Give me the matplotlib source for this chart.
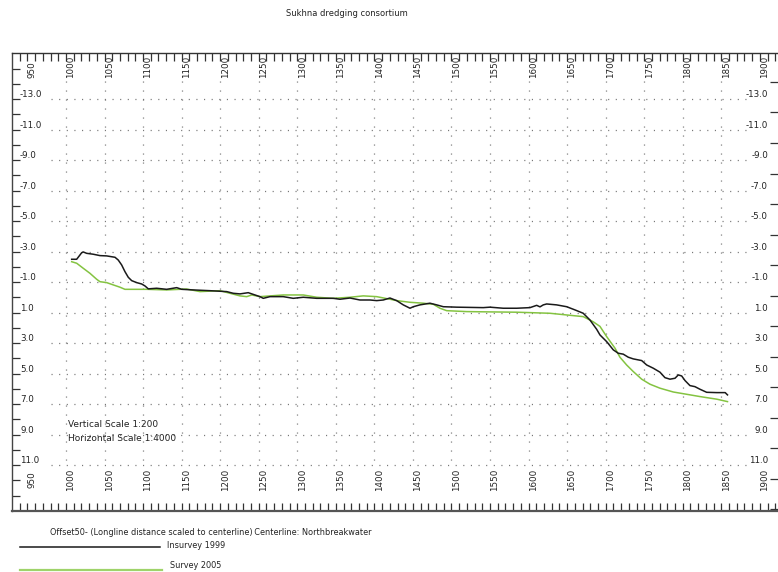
import matplotlib
matplotlib.use("Agg")
import matplotlib.pyplot as plt
import numpy as np

# ---------------- data ----------------
x_1999 = [1007.4, 1013.9, 1020.4, 1022.4, 1026.8, 1035.4, 1044.1, 1052.8, 1063.6, 1067.8,
          1072.2, 1076.5, 1080.8, 1085.2, 1091.7, 1098.2, 1102.5, 1106.8, 1117.6, 1130.6,
          1143.6, 1150.1, 1165.1, 1186.8, 1208.4, 1217.0, 1225.7, 1236.4, 1251.6, 1255.9,
          1264.6, 1281.8, 1294.8, 1307.8, 1325.2, 1346.7, 1355.4, 1368.4, 1381.3, 1394.3,
          1403.0, 1411.5, 1420.2, 1428.9, 1437.5, 1446.2, 1450.5, 1459.1, 1472.1, 1480.8,
          1489.4, 1506.7, 1541.2, 1549.9, 1567.2, 1584.6, 1601.8, 1610.5, 1614.8, 1619.1,
          1623.5, 1636.4, 1649.4, 1660.2, 1670.9, 1679.6, 1688.3, 1692.6, 1701.3, 1709.9,
          1716.3, 1722.8, 1729.3, 1735.8, 1746.7, 1753.2, 1761.7, 1770.4, 1776.9, 1783.4,
          1789.9, 1794.2, 1798.6, 1802.9, 1809.3, 1815.8, 1822.3, 1831.0, 1844.0, 1855.0,
          1858.0]
d_1999 = [-2.50, -2.50, -2.93, -2.98, -2.89, -2.83, -2.74, -2.72, -2.63, -2.45,
          -2.13, -1.69, -1.32, -1.10, -0.97, -0.88, -0.75, -0.56, -0.60, -0.53,
          -0.64, -0.53, -0.49, -0.44, -0.38, -0.27, -0.23, -0.31, -0.05, 0.06,
          -0.05, -0.05, 0.06, -0.01, 0.06, 0.06, 0.12, 0.04, 0.17, 0.17,
          0.21, 0.17, 0.04, 0.21, 0.49, 0.71, 0.61, 0.49, 0.38, 0.49,
          0.61, 0.64, 0.67, 0.64, 0.71, 0.71, 0.67, 0.52, 0.62, 0.49,
          0.43, 0.49, 0.61, 0.82, 1.04, 1.48, 2.09, 2.46, 2.90, 3.44,
          3.66, 3.72, 3.92, 4.03, 4.14, 4.43, 4.64, 4.90, 5.26, 5.36,
          5.30, 5.08, 5.15, 5.45, 5.78, 5.85, 6.02, 6.22, 6.24, 6.24,
          6.39]

x_2005 = [1007.4, 1013.9, 1022.4, 1031.1, 1039.8, 1044.1, 1052.8, 1061.3, 1070.0, 1076.5,
          1104.7, 1130.6, 1156.5, 1173.8, 1199.7, 1212.7, 1225.7, 1234.4, 1240.9, 1251.6,
          1281.8, 1307.8, 1325.2, 1346.7, 1368.4, 1385.6, 1403.0, 1420.2, 1428.9, 1446.2,
          1463.4, 1476.4, 1485.1, 1493.8, 1519.7, 1549.9, 1584.6, 1627.8, 1670.9, 1683.9,
          1692.6, 1701.3, 1712.1, 1718.5, 1727.2, 1735.8, 1746.7, 1757.5, 1770.4, 1787.7,
          1805.1, 1822.3, 1844.0, 1858.0]
d_2005 = [-2.34, -2.24, -1.91, -1.58, -1.19, -1.03, -0.97, -0.82, -0.67, -0.53,
          -0.53, -0.49, -0.55, -0.38, -0.44, -0.27, -0.10, -0.05, -0.16, -0.05,
          -0.16, -0.16, -0.01, 0.06, -0.01, -0.10, -0.05, 0.12, 0.21, 0.32,
          0.38, 0.45, 0.71, 0.87, 0.93, 0.95, 0.97, 1.04, 1.26, 1.60,
          1.90, 2.57, 3.33, 3.92, 4.43, 4.86, 5.36, 5.69, 5.95, 6.20,
          6.35, 6.50, 6.67, 6.83]

x_tick_labels = [950, 1000, 1050, 1100, 1150, 1200, 1250, 1300, 1350, 1400, 1450,
                 1500, 1550, 1600, 1650, 1700, 1750, 1800, 1850, 1900]
y_tick_labels = [-13, -11, -9, -7, -5, -3, -1, 1, 3, 5, 7, 9, 11]
grid_cols = [1000, 1050, 1100, 1150, 1200, 1250, 1300, 1350, 1400, 1450,
             1500, 1550, 1600, 1650, 1700, 1750, 1800, 1850]

# ---------------- figure ----------------
W, H = 778, 572
fig = plt.figure(figsize=(W / 100, H / 100), dpi=100)
fig.patch.set_facecolor("white")

left_px, right_px, top_px, bot_px = 12.3, 778.0, 53.3, 511.0
ax = fig.add_axes([left_px / W, 1 - bot_px / H, (right_px - left_px) / W, (bot_px - top_px) / H])
ax.set_facecolor("white")
ax.set_xlim(930.4, 1923.5)
ax.set_ylim(14, -16)

ax.spines["right"].set_visible(False)
ax.spines["top"].set_color("#333333")
ax.spines["left"].set_color("#444444")
ax.spines["bottom"].set_color("#555555")
ax.spines["bottom"].set_linewidth(1.6)
ax.spines["top"].set_linewidth(1.0)
ax.spines["left"].set_linewidth(1.0)

# ticks
ax.set_xticks(np.arange(940, 1921, 10))
ax.tick_params(axis="x", which="both", direction="in", top=True, bottom=True,
               length=5.5, width=0.9, color="#333333", labelbottom=False, labeltop=False)
ax.set_yticks(np.arange(-15, 14, 1))
ax.tick_params(axis="y", which="major", direction="in", left=True, right=False,
               length=6, width=0.9, color="#333333", labelleft=False)
# right side ticks at even values
for v in range(-14, 15, 2):
    ax.plot([1913.5, 1923.5], [v - 0.12, v - 0.12], color="#333333", lw=0.9,
            clip_on=False, solid_capstyle="butt")

# dotted grid
for v in y_tick_labels:
    ax.plot([980.5, 1886], [v, v], color="#777777", lw=0.9,
            linestyle=(0, (0.9, 5.2)), zorder=1)
for c in grid_cols:
    ax.plot([c, c], [-14.2, 11.2], color="#777777", lw=0.9,
            linestyle=(0, (0.9, 6.3)), zorder=1)

# tick labels
fs = 6.3
for v in x_tick_labels:
    ax.text(v + 0.5, -14.38, str(v), rotation=90, ha="left", va="bottom",
            fontsize=fs, color="#222222")
    ax.text(v + 0.5, 11.96, str(v), rotation=90, ha="left", va="center",
            fontsize=fs, color="#222222")
for v in y_tick_labels:
    lab = f"{v:.1f}"
    ax.text(940.4, v - 0.28, lab, ha="left", va="center", fontsize=fs, color="#222222")
    ax.text(1910.5, v - 0.28, lab, ha="right", va="center", fontsize=fs, color="#222222")

# curves
ax.plot(x_1999, d_1999, color="#1a1a1a", lw=1.1, zorder=3)
ax.plot(x_2005, d_2005, color="#84c341", lw=1.1, zorder=2)

# scale text
ax.text(1003, 8.36, "Vertical Scale 1:200", ha="left", va="center", fontsize=6.5, color="#222222")
ax.text(1003, 9.27, "Horizontal Scale 1:4000", ha="left", va="center", fontsize=6.5, color="#222222")

# title
fig.text(347 / W, 1 - 14 / H, "Sukhna dredging consortium", ha="center", va="center",
         fontsize=6.0, color="#222222")

# legend area
lfs = 5.9
fig.text(50 / W, 1 - 532.5 / H,
         "Offset50- (Longline distance scaled to centerline)\u2009Centerline: Northbreakwater",
         ha="left", va="center", fontsize=lfs, color="#222222")
fig.add_artist(plt.Line2D([20 / W, 160 / W], [1 - 547 / H, 1 - 547 / H], color="#1a1a1a", lw=1.1))
fig.text(167 / W, 1 - 546 / H, "Insurvey 1999", ha="left", va="center", fontsize=lfs, color="#222222")
fig.add_artist(plt.Line2D([20 / W, 162 / W], [1 - 570 / H, 1 - 570 / H], color="#9fd36a", lw=1.6))
fig.text(170 / W, 1 - 566 / H, "Survey 2005", ha="left", va="center", fontsize=lfs, color="#222222")

fig.savefig("out.png", dpi=100, facecolor="white")
